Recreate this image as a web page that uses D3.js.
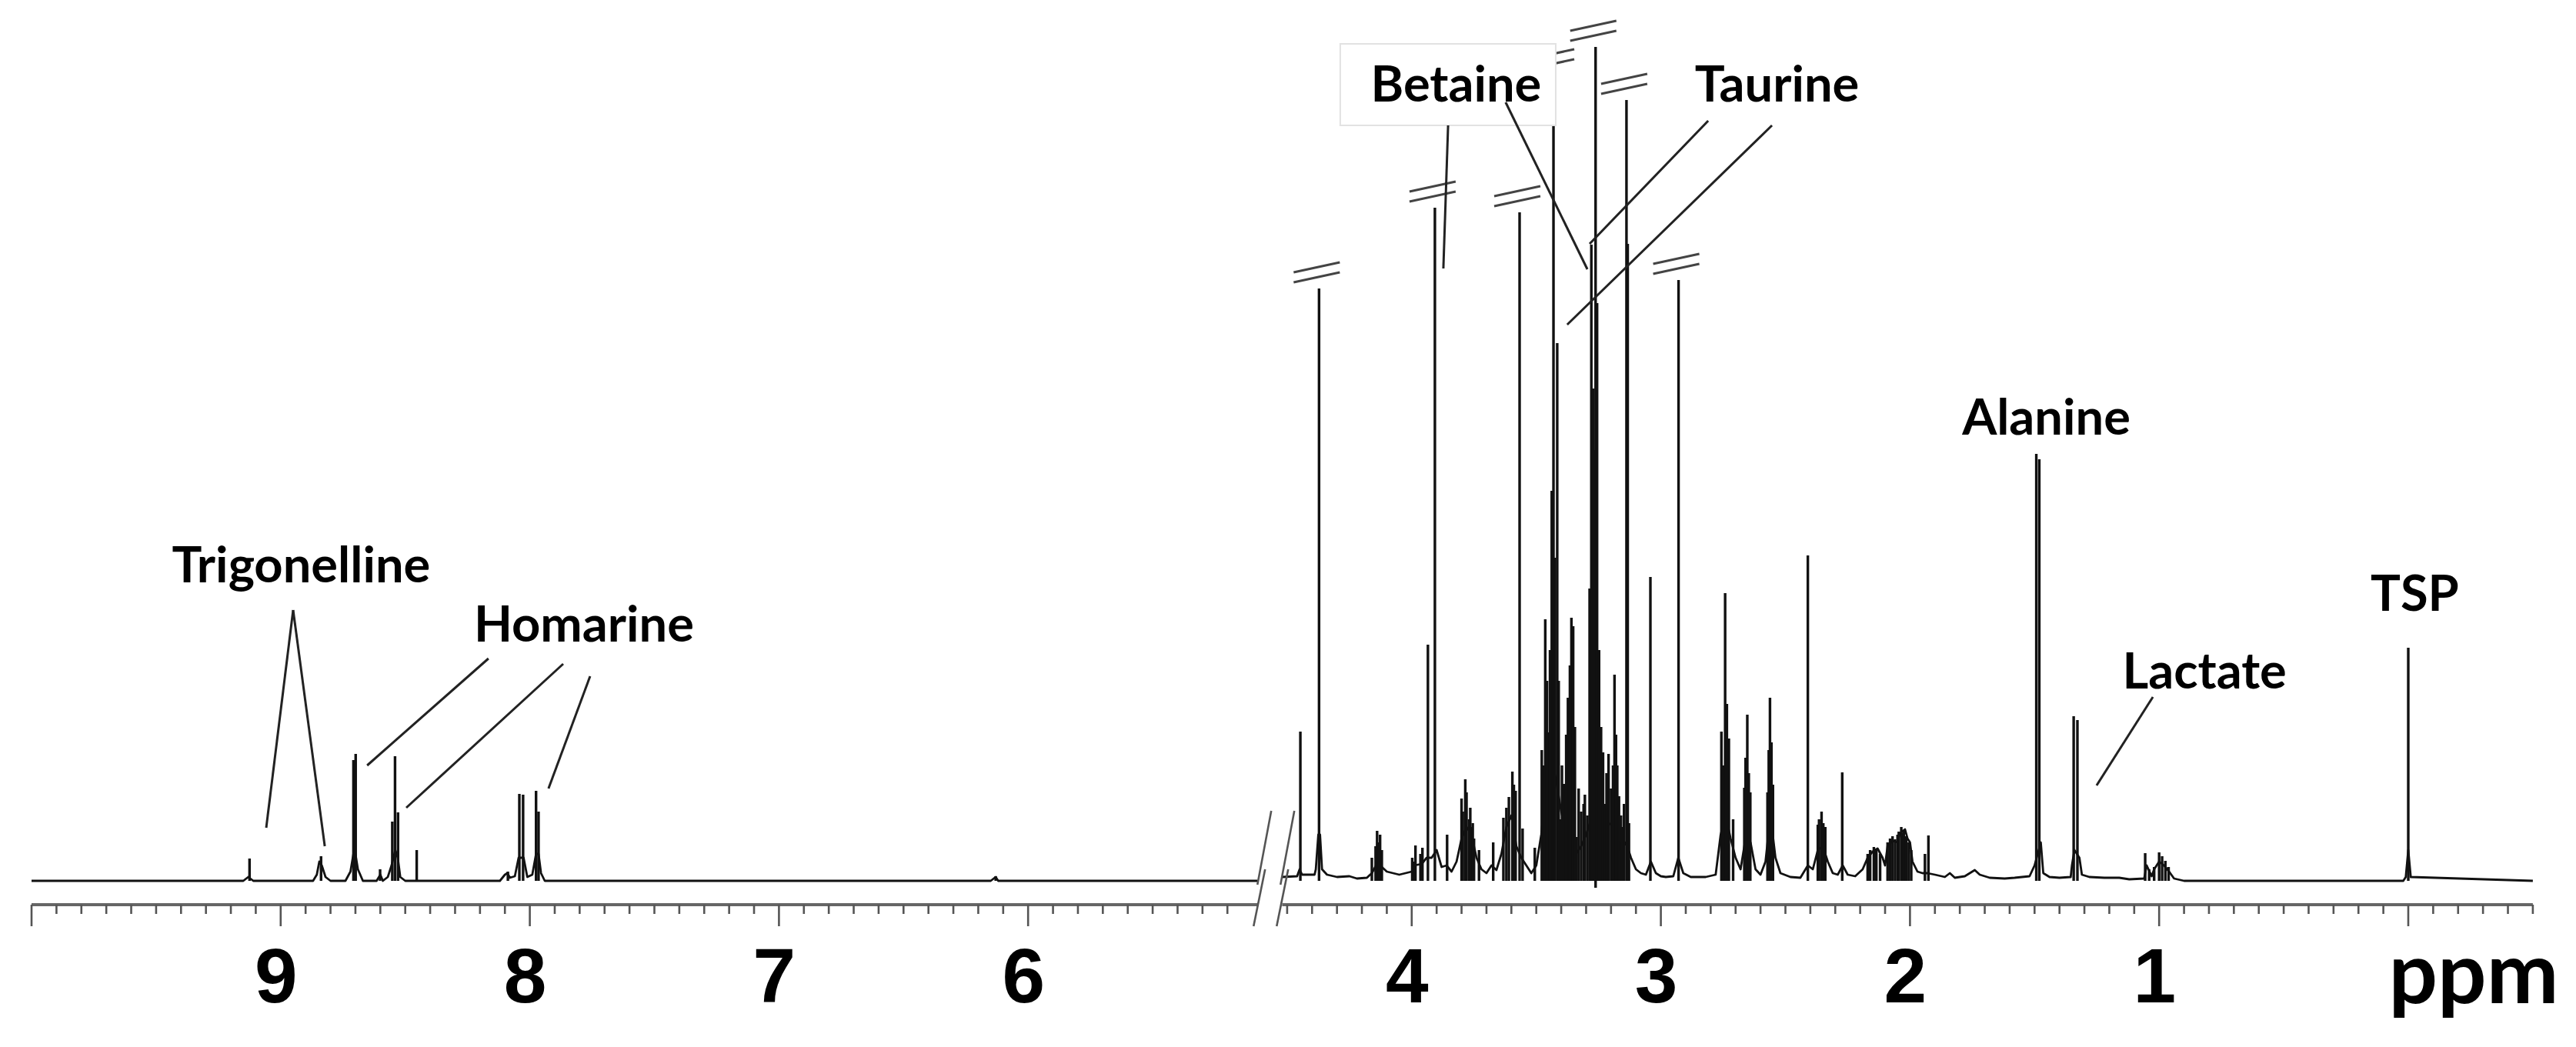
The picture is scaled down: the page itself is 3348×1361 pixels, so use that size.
<!DOCTYPE html>
<html><head><meta charset="utf-8">
<script src="https://cdn.jsdelivr.net/npm/d3@7"></script>
<style>body{margin:0;background:#fff}</style>
</head><body>
<svg id="chart" width="3348" height="1361"></svg>
<script>
// ---------- DATA (chemical shift in ppm, intensity in arbitrary units) ----------
const leftDomain  = [10, 5.08];
const rightDomain = [4.52, -0.5];
const majorTickLabels = [9, 8, 7, 6, 4, 3, 2, 1];
const axisTitle = "ppm";

const peakPpm = [9.125, 8.838, 8.708, 8.699, 8.601, 8.552, 8.541, 8.529, 8.454, 8.088, 8.042, 8.027, 7.975, 7.965, 6.13,
  4.447, 4.372, 4.16, 4.139, 4.127, 3.998, 3.985, 3.957, 3.935, 3.907, 3.858, 3.80, 3.785, 3.77, 3.76, 3.75, 3.73, 3.673,
  3.632, 3.61, 3.596, 3.583, 3.567, 3.555, 3.506, 3.478, 3.464, 3.452, 3.438, 3.431, 3.416, 3.403, 3.39, 3.373, 3.359,
  3.352, 3.34, 3.305, 3.295, 3.279, 3.262, 3.256, 3.24, 3.232, 3.225, 3.21, 3.186, 3.175, 3.148, 3.138, 3.133, 3.128,
  3.042, 2.929, 2.757, 2.742, 2.727, 2.71, 2.665, 2.653, 2.641, 2.572, 2.562, 2.55, 2.41, 2.37, 2.355, 2.34, 2.272,
  1.94, 1.926, 1.493, 1.481, 1.343, 1.328, 1.056, 1.04, 1.02, 1.0, 0.988, 0.975, 0.962, 0.0,
  // extra lines inside crowded multiplets
  3.795, 3.78, 3.765, 3.755, 3.62, 3.59, 3.47, 3.457, 3.445, 3.425, 3.41, 3.397, 3.38, 3.365, 3.345, 3.33, 3.32,
  3.31, 3.286, 3.272, 3.268, 3.248, 3.218, 3.2, 3.192, 3.18, 3.168, 3.16, 3.155, 2.75, 2.735, 2.66, 2.647, 2.567, 2.556,
  2.365, 2.348,
  2.17, 2.16, 2.145, 2.135, 2.12, 2.09, 2.08, 2.07, 2.06, 2.05, 2.045, 2.035, 2.03, 2.025, 2.015, 2.005, 1.995,
  4.145, 4.133, 4.12, 3.99, 3.965];
const peakInt = [29, 32, 157, 165, 15, 77, 162, 89, 40, 12, 113, 112, 117, 90, 6,
  194, 770, 30, 65, 60, 30, 46, 43, 307, 875, 60, 107, 132, 80, 70, 55, 40, 50,
  82, 109, 142, 117, 869, 68, 43, 170, 340, 193, 507, 1047, 699, 80, 126, 238, 342,
  331, 57, 112, 85, 827, 1084, 751, 200, 167, 100, 165, 268, 150, 100, 1015, 828, 75,
  395, 781, 194, 374, 185, 80, 121, 216, 115, 115, 238, 125, 423, 73, 90, 70, 141,
  35, 59, 555, 548, 214, 209, 36, 15, 18, 37, 32, 26, 18, 303,
  90, 115, 95, 75, 95, 125, 150, 260, 300, 420, 260, 150, 190, 280, 200, 120, 90,
  100, 380, 640, 560, 300, 140, 120, 150, 190, 110, 85, 70, 150, 230, 160, 140, 170, 180,
  80, 75,
  35, 40, 44, 42, 35, 50, 55, 58, 54, 60, 64, 70, 62, 66, 58, 50, 40,
  45, 50, 40, 25, 35];
// peaks drawn off-scale (shown with "//" break marks)
const brokenPeaks = [4.372, 3.907, 3.567, 3.431, 3.262, 3.138, 2.929];
const dipPpm = [3.262];
const dipInt = [-9];

// digitized baseline / broad envelope
const baseLeftPpm = [10.0, 9.15, 9.13, 9.11, 8.87, 8.855, 8.845, 8.835, 8.82, 8.80, 8.74, 8.72, 8.708, 8.70, 8.69, 8.67,
  8.615, 8.60, 8.59, 8.57, 8.555, 8.54, 8.53, 8.52, 8.50, 8.12, 8.10, 8.09, 8.08, 8.06, 8.045, 8.035, 8.025, 8.01,
  7.99, 7.975, 7.965, 7.955, 7.94, 6.15, 6.13, 6.12, 5.08];
const baseLeftInt = [0, 0, 5, 0, 0, 8, 25, 20, 5, 0, 0, 12, 35, 35, 15, 0,
  0, 8, 0, 5, 20, 40, 30, 5, 0, 0, 8, 10, 4, 6, 30, 30, 30, 5,
  8, 35, 35, 10, 0, 0, 5, 0, 0];
const baseRightPpm = [4.52, 4.46, 4.45, 4.44, 4.39, 4.385, 4.375, 4.368, 4.36, 4.34, 4.30, 4.25, 4.22, 4.18, 4.16, 4.14,
  4.12, 4.10, 4.05, 4.00, 3.99, 3.96, 3.94, 3.92, 3.90, 3.88, 3.86, 3.84, 3.82, 3.80, 3.78, 3.76, 3.74, 3.72, 3.70,
  3.68, 3.66, 3.64, 3.62, 3.60, 3.58, 3.56, 3.54, 3.52, 3.50, 3.48, 3.46, 3.44, 3.42, 3.40, 3.38, 3.36, 3.34, 3.32,
  3.30, 3.28, 3.26, 3.24, 3.22, 3.20, 3.18, 3.16, 3.14, 3.12, 3.10, 3.08, 3.06, 3.04, 3.02, 3.00, 2.98, 2.95, 2.93,
  2.91, 2.88, 2.82, 2.78, 2.76, 2.74, 2.72, 2.70, 2.68, 2.66, 2.64, 2.62, 2.60, 2.58, 2.56, 2.54, 2.52, 2.48, 2.44,
  2.41, 2.39, 2.37, 2.35, 2.33, 2.31, 2.29, 2.27, 2.25, 2.22, 2.19, 2.17, 2.15, 2.13, 2.11, 2.10, 2.09, 2.07, 2.05,
  2.04, 2.02, 2.01, 2.00, 1.99, 1.97, 1.95, 1.93, 1.90, 1.86, 1.84, 1.82, 1.78, 1.74, 1.72, 1.68, 1.62, 1.58, 1.52,
  1.50, 1.475, 1.465, 1.44, 1.40, 1.355, 1.35, 1.34, 1.32, 1.31, 1.28, 1.22, 1.16, 1.12, 1.06, 1.05, 1.03, 1.02,
  1.00, 0.98, 0.96, 0.94, 0.90, 0.02, 0.01, 0.0, -0.01, -0.5];
const baseRightInt = [5, 6, 15, 8, 8, 15, 60, 60, 15, 8, 5, 6, 3, 4, 10, 22,
  18, 12, 8, 12, 20, 22, 30, 30, 40, 18, 20, 12, 25, 55, 70, 60, 30, 15, 10,
  20, 14, 35, 70, 85, 45, 30, 20, 10, 20, 60, 130, 160, 130, 90, 60, 40, 35, 45,
  60, 80, 100, 90, 70, 75, 65, 40, 50, 30, 15, 10, 8, 25, 10, 6, 5, 6, 30,
  10, 5, 5, 8, 60, 85, 55, 30, 15, 55, 50, 15, 8, 25, 85, 30, 10, 5, 4,
  20, 15, 40, 45, 25, 10, 8, 20, 8, 6, 15, 30, 38, 42, 30, 20, 45, 52, 50,
  62, 67, 55, 50, 25, 12, 10, 10, 8, 5, 10, 4, 6, 14, 8, 4, 3, 4, 6,
  20, 50, 10, 5, 4, 5, 20, 40, 30, 8, 5, 4, 4, 2, 3, 20, 6, 15,
  25, 20, 12, 3, 0, 0, 5, 40, 5, 0];

// annotations
const labelText = ["Trigonelline", "Homarine", "Betaine", "Taurine", "Alanine", "Lactate", "TSP"];
const labelPpm  = [8.918, 7.783, 3.822, 2.534, 1.453, 0.818, -0.026];
const labelInt  = [388, 311, 1013, 1013, 580, 250, 351];
const leaderLines = [ // [ppm1, int1, ppm2, int2]
  [8.950, 352, 9.058, 69], [8.950, 352, 8.823, 45],
  [8.166, 289, 8.653, 150], [7.866, 282, 8.496, 95], [7.758, 266, 7.925, 120],
  [3.854, 982, 3.873, 796], [3.623, 1012, 3.295, 795],
  [2.810, 988, 3.286, 828], [2.554, 982, 3.376, 723],
  [1.025, 239, 1.251, 124]];
const betaineBox = [4.287, 1088, 3.422, 982];

// ---------- SCALES ----------
const svg = d3.select("#chart");
const xL = d3.scaleLinear().domain(leftDomain).range([41, 41 + (leftDomain[0] - leftDomain[1]) * 323.8]);
const xR = d3.scaleLinear().domain(rightDomain).range([3130 - rightDomain[0] * 323.8, 3130 - rightDomain[1] * 323.8]);
const x = p => (p > 5 ? xL(p) : xR(p));
const y = d3.scaleLinear().domain([0, 1145]).range([1145, 0]);
const axisY = 1176;
const ink = "#111";

// ---------- SPECTRUM ----------
const line = d3.line().x(d => x(d[0])).y(d => y(d[1]));
const gSpec = svg.append("g").attr("fill", "none").attr("stroke", ink).attr("stroke-width", 2.8).attr("stroke-linejoin", "round");
gSpec.append("path").attr("d", line(baseLeftPpm.map((p, i) => [p, baseLeftInt[i]])));
gSpec.append("path").attr("d", line(baseRightPpm.map((p, i) => [p, baseRightInt[i]])));
gSpec.selectAll("line.pk").data(peakPpm.map((p, i) => [p, peakInt[i]])).join("line")
  .attr("class", "pk")
  .attr("x1", d => x(d[0])).attr("x2", d => x(d[0]))
  .attr("y1", y(0)).attr("y2", d => y(d[1]))
  .attr("stroke-width", 3.4);
gSpec.selectAll("line.dip").data(dipPpm.map((p, i) => [p, dipInt[i]])).join("line")
  .attr("class", "dip")
  .attr("x1", d => x(d[0])).attr("x2", d => x(d[0]))
  .attr("y1", y(0)).attr("y2", d => y(d[1]))
  .attr("stroke-width", 3.4);

// break marks on off-scale peaks
const gBrk = svg.append("g").attr("stroke", "#444").attr("stroke-width", 3);
brokenPeaks.forEach(p => {
  const i = peakPpm.indexOf(p);
  const px = x(p), py = y(peakInt[i]);
  gBrk.append("line").attr("x1", px - 33).attr("y1", py - 8).attr("x2", px + 27).attr("y2", py - 21);
  gBrk.append("line").attr("x1", px - 33).attr("y1", py - 21).attr("x2", px + 27).attr("y2", py - 34);
});

// ---------- AXIS ----------
const gAx = svg.append("g").attr("stroke", "#555");
[[xL, leftDomain], [xR, rightDomain]].forEach(([s, dom]) => {
  gAx.append("line").attr("x1", s(dom[0])).attr("x2", s(dom[1])).attr("y1", axisY).attr("y2", axisY)
    .attr("stroke-width", 4).attr("stroke", "#666");
});
const minorL = d3.range(100, 51.5, -1).map(v => v / 10);
const minorR = d3.range(45, -5.5, -1).map(v => v / 10);
const allTicks = [...minorL.map(v => [xL, v]), ...minorR.map(v => [xR, v])];
gAx.selectAll("line.tk").data(allTicks).join("line").attr("class", "tk")
  .attr("x1", d => d[0](d[1])).attr("x2", d => d[0](d[1]))
  .attr("y1", axisY).attr("y2", d => axisY + (Math.abs(d[1] - Math.round(d[1])) < 1e-6 ? 28 : 12))
  .attr("stroke-width", 2.6);

svg.append("g").selectAll("text").data(majorTickLabels).join("text")
  .attr("x", d => x(d) - 6).attr("y", 1303)
  .attr("text-anchor", "middle")
  .attr("font-family", "Liberation Sans, Arial, sans-serif").attr("font-weight", 700)
  .attr("font-size", 100).attr("fill", "#000")
  .text(d => d);
svg.append("text").attr("x", xR(0) + 85).attr("y", 1304).attr("text-anchor", "middle")
  .attr("font-family", "Lato, sans-serif").attr("font-weight", 700).attr("font-size", 112)
  .attr("fill", "#000").text(axisTitle);

// axis break "//"
const bx = (xL(leftDomain[1]) + xR(rightDomain[0])) / 2;
const gAB = svg.append("g").attr("stroke", "#555").attr("stroke-width", 2.6);
[-16, 14].forEach(o => {
  gAB.append("line").attr("x1", bx + o + 18).attr("y1", axisY - 122).attr("x2", bx + o).attr("y2", axisY - 26);
  gAB.append("line").attr("x1", bx + o + 10).attr("y1", axisY - 46).attr("x2", bx + o - 5).attr("y2", axisY + 28);
});

// ---------- ANNOTATIONS ----------
svg.append("rect")
  .attr("x", x(betaineBox[0])).attr("y", y(betaineBox[1]))
  .attr("width", x(betaineBox[2]) - x(betaineBox[0])).attr("height", y(betaineBox[3]) - y(betaineBox[1]))
  .attr("fill", "#fff").attr("stroke", "#e2e2e2").attr("stroke-width", 2);

svg.append("g").selectAll("text").data(labelText).join("text")
  .attr("x", (d, i) => x(labelPpm[i])).attr("y", (d, i) => y(labelInt[i]))
  .attr("text-anchor", "middle")
  .attr("font-family", "Lato, sans-serif").attr("font-weight", 700).attr("font-size", 65)
  .attr("fill", "#000").text(d => d);

svg.append("g").attr("stroke", "#222").attr("stroke-width", 3).selectAll("line").data(leaderLines).join("line")
  .attr("x1", d => x(d[0])).attr("y1", d => y(d[1]))
  .attr("x2", d => x(d[2])).attr("y2", d => y(d[3]));
</script>
</body></html>
